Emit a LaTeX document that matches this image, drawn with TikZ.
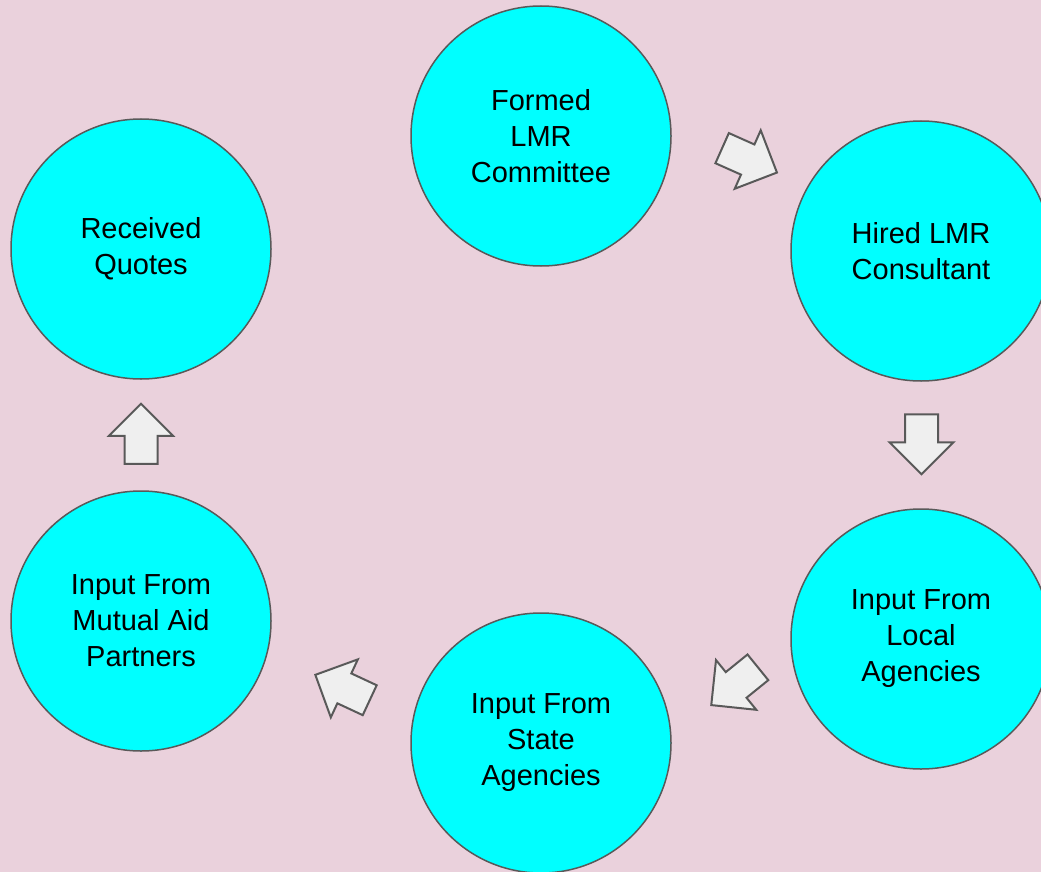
\documentclass[tikz,border=0pt]{standalone}
\usepackage{fontspec}
\setmainfont{Liberation Sans}
\usetikzlibrary{shapes.arrows}
\definecolor{bgpink}{HTML}{EAD1DC}
\definecolor{stepcyan}{HTML}{00FFFF}
\definecolor{edgegray}{HTML}{595959}
\definecolor{arrowgray}{HTML}{EFEFEF}

\begin{document}
\begin{tikzpicture}
  [x=1pt,y=-1pt,
   % Styles
   stage/.style={circle,fill=stepcyan,draw=edgegray,line width=1.5pt,
     minimum size=260pt,inner sep=0pt,align=center,
     font=\fontsize{29}{36}\selectfont},
   flow/.style={single arrow,fill=arrowgray,draw=edgegray,line width=2pt,
     minimum height=60pt,minimum width=62pt,inner sep=15.5pt,
     single arrow head extend=15.5pt,single arrow tip angle=90}]

  % Background
  \useasboundingbox (0,0) rectangle (1041,872);
  \fill[bgpink] (0,0) rectangle (1041,872);

  % The stages
  \node[stage] (committee) at (541,136) {Formed\\LMR\\Committee};
  \node[stage] (consultant) at (921,251) {Hired LMR\\Consultant};
  \node[stage] (local) at (921,639) {Input From\\Local\\Agencies};
  \node[stage] (state) at (541,743) {Input From\\State\\Agencies};
  \node[stage] (mutual) at (141,621) {Input From\\Mutual Aid\\Partners};
  \node[stage] (quotes) at (141,249) {Received\\Quotes};

  % The arrows between them
  \node[flow,rotate=-24] (toconsultant) at (742,157) {};
  \node[flow,rotate=-90] (tolocal) at (921.5,436) {};
  \node[flow,rotate=-141] (tostate) at (741,681) {};
  \node[flow,rotate=155] (tomutual) at (350,691) {};
  \node[flow,rotate=90] (toquotes) at (141,442) {};
\end{tikzpicture}
\end{document}
